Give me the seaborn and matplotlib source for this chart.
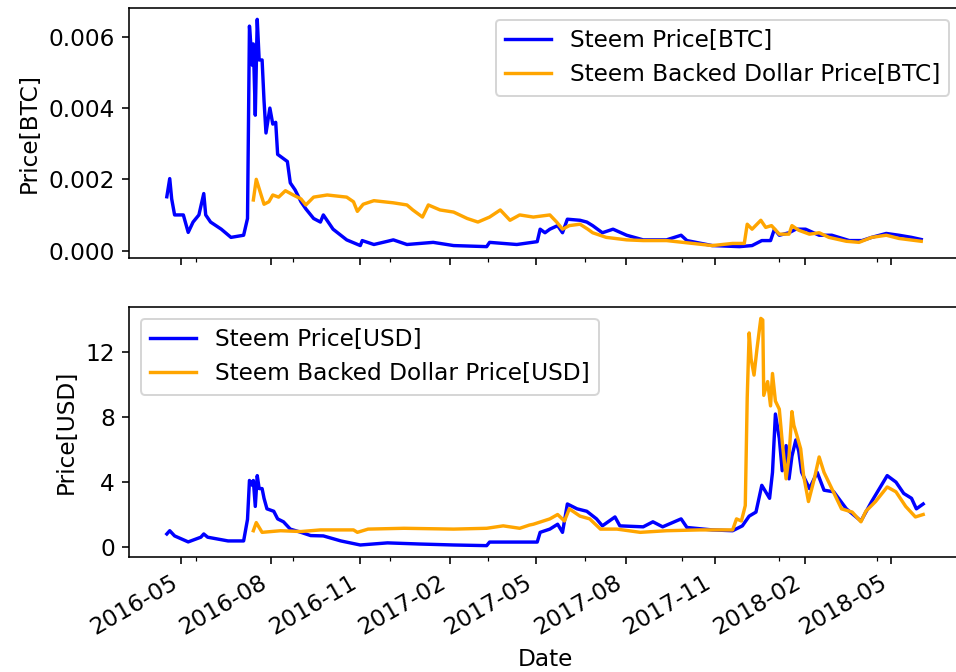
import matplotlib
matplotlib.use('Agg')
import matplotlib.dates as mdates
import matplotlib.pyplot as plt
import pandas as pd
import seaborn as sns
from matplotlib.ticker import MultipleLocator

# Steem price in BTC
steem_btc_dates = [
    '2016-04-16', '2016-04-19', '2016-04-21', '2016-04-24', '2016-05-03', '2016-05-08', '2016-05-13',
    '2016-05-19', '2016-05-24', '2016-05-26', '2016-05-31', '2016-06-11', '2016-06-21', '2016-07-04',
    '2016-07-08', '2016-07-10', '2016-07-13', '2016-07-14', '2016-07-16', '2016-07-18', '2016-07-20',
    '2016-07-23', '2016-07-25', '2016-07-27', '2016-07-31', '2016-08-03', '2016-08-06', '2016-08-08',
    '2016-08-13', '2016-08-18', '2016-08-21', '2016-08-26', '2016-09-01', '2016-09-06', '2016-09-14',
    '2016-09-21', '2016-09-24', '2016-10-04', '2016-10-18', '2016-11-01', '2016-11-03', '2016-11-15',
    '2016-11-29', '2016-12-05', '2016-12-19', '2017-01-15', '2017-02-05', '2017-03-11', '2017-03-14',
    '2017-04-11', '2017-05-02', '2017-05-05', '2017-05-10', '2017-05-15', '2017-05-23', '2017-05-28',
    '2017-06-02', '2017-06-15', '2017-06-22', '2017-06-28', '2017-07-08', '2017-07-19', '2017-08-02',
    '2017-08-19', '2017-09-12', '2017-09-27', '2017-10-03', '2017-10-29', '2017-11-26', '2017-12-09',
    '2017-12-19', '2017-12-28', '2018-01-01', '2018-01-06', '2018-01-16', '2018-01-23', '2018-02-02',
    '2018-02-16', '2018-03-01', '2018-03-19', '2018-04-01', '2018-04-11', '2018-04-26', '2018-05-09',
    '2018-05-22', '2018-06-01',
]
steem_btc = [
    0.00151, 0.00202, 0.00145, 0.00100, 0.00100, 0.00051, 0.00080,
    0.00100, 0.00160, 0.00100, 0.00080, 0.00060, 0.00037, 0.00043,
    0.00090, 0.00630, 0.00520, 0.00580, 0.00380, 0.00649, 0.00535,
    0.00535, 0.00420, 0.00330, 0.00400, 0.00355, 0.00360, 0.00270,
    0.00260, 0.00250, 0.00190, 0.00170, 0.00137, 0.00117, 0.00090,
    0.00080, 0.00100, 0.00060, 0.00030, 0.00014, 0.00028, 0.00017,
    0.00026, 0.00030, 0.00017, 0.00023, 0.00014, 0.00011, 0.00023,
    0.00017, 0.00025, 0.00060, 0.00050, 0.00060, 0.00070, 0.00050,
    0.00088, 0.00085, 0.00080, 0.00070, 0.00050, 0.00060, 0.00043,
    0.00030, 0.00030, 0.00043, 0.00028, 0.00014, 0.00011, 0.00014,
    0.00028, 0.00028, 0.00060, 0.00043, 0.00050, 0.00060, 0.00060,
    0.00043, 0.00043, 0.00028, 0.00028, 0.00037, 0.00048, 0.00043,
    0.00037, 0.00031,
]

# Steem Backed Dollar price in BTC
sbd_btc_dates = [
    '2016-07-14', '2016-07-17', '2016-07-22', '2016-07-25', '2016-07-30', '2016-08-03', '2016-08-09',
    '2016-08-16', '2016-08-24', '2016-09-01', '2016-09-06', '2016-09-14', '2016-09-28', '2016-10-18',
    '2016-10-25', '2016-10-29', '2016-11-04', '2016-11-15', '2016-12-05', '2016-12-19', '2016-12-25',
    '2017-01-04', '2017-01-10', '2017-01-22', '2017-02-05', '2017-02-19', '2017-03-02', '2017-03-14',
    '2017-03-25', '2017-04-04', '2017-04-14', '2017-04-28', '2017-05-15', '2017-05-22', '2017-05-28',
    '2017-06-04', '2017-06-15', '2017-06-23', '2017-06-28', '2017-07-12', '2017-08-02', '2017-08-19',
    '2017-09-12', '2017-10-09', '2017-10-29', '2017-11-19', '2017-12-01', '2017-12-04', '2017-12-09',
    '2017-12-18', '2017-12-23', '2017-12-29', '2018-01-06', '2018-01-16', '2018-01-19', '2018-01-26',
    '2018-02-06', '2018-02-16', '2018-02-26', '2018-03-16', '2018-03-29', '2018-04-11', '2018-04-26',
    '2018-05-09', '2018-06-01',
]
sbd_btc = [
    0.00142, 0.00200, 0.00156, 0.00130, 0.00137, 0.00156, 0.00150,
    0.00168, 0.00156, 0.00145, 0.00128, 0.00150, 0.00156, 0.00150,
    0.00137, 0.00110, 0.00130, 0.00140, 0.00134, 0.00128, 0.00114,
    0.00094, 0.00128, 0.00114, 0.00108, 0.00090, 0.00080, 0.00094,
    0.00114, 0.00085, 0.00100, 0.00094, 0.00100, 0.00080, 0.00060,
    0.00070, 0.00074, 0.00060, 0.00050, 0.00037, 0.00030, 0.00028,
    0.00028, 0.00020, 0.00014, 0.00020, 0.00020, 0.00074, 0.00060,
    0.00085, 0.00065, 0.00070, 0.00046, 0.00046, 0.00070, 0.00057,
    0.00046, 0.00050, 0.00037, 0.00026, 0.00023, 0.00037, 0.00043,
    0.00034, 0.00026,
]

# Steem price in USD
steem_usd_dates = [
    '2016-04-16', '2016-04-19', '2016-04-24', '2016-05-08', '2016-05-21', '2016-05-24', '2016-05-28',
    '2016-06-18', '2016-07-04', '2016-07-08', '2016-07-10', '2016-07-13', '2016-07-14', '2016-07-16',
    '2016-07-18', '2016-07-20', '2016-07-23', '2016-07-25', '2016-07-28', '2016-08-04', '2016-08-08',
    '2016-08-14', '2016-08-21', '2016-09-01', '2016-09-11', '2016-09-24', '2016-10-12', '2016-11-01',
    '2016-11-29', '2017-01-01', '2017-02-05', '2017-03-11', '2017-03-14', '2017-04-14', '2017-05-02',
    '2017-05-05', '2017-05-15', '2017-05-23', '2017-05-28', '2017-06-02', '2017-06-12', '2017-06-22',
    '2017-07-02', '2017-07-08', '2017-07-21', '2017-07-26', '2017-08-19', '2017-08-29', '2017-09-08',
    '2017-09-27', '2017-10-03', '2017-10-29', '2017-11-19', '2017-11-29', '2017-12-06', '2017-12-13',
    '2017-12-19', '2017-12-27', '2017-12-30', '2018-01-02', '2018-01-06', '2018-01-09', '2018-01-13',
    '2018-01-16', '2018-01-19', '2018-01-23', '2018-01-26', '2018-01-29', '2018-02-06', '2018-02-14',
    '2018-02-21', '2018-03-03', '2018-03-16', '2018-03-31', '2018-04-11', '2018-04-20', '2018-04-27',
    '2018-05-06', '2018-05-14', '2018-05-22', '2018-05-27', '2018-06-03',
]
steem_usd = [
    0.80, 1.00, 0.68, 0.31, 0.60, 0.80, 0.60,
    0.37, 0.37, 1.70, 4.10, 3.80, 4.10, 2.50,
    4.40, 3.60, 3.60, 3.00, 2.35, 2.20, 1.73,
    1.55, 1.10, 0.90, 0.70, 0.68, 0.37, 0.12,
    0.25, 0.18, 0.12, 0.08, 0.30, 0.30, 0.30,
    0.90, 1.10, 1.40, 0.90, 2.65, 2.35, 2.20,
    1.73, 1.30, 1.85, 1.30, 1.24, 1.55, 1.24,
    1.73, 1.20, 1.05, 1.00, 1.30, 1.90, 2.15,
    3.80, 3.00, 4.60, 8.20, 6.70, 4.70, 6.25,
    4.20, 5.60, 6.60, 5.90, 4.60, 3.60, 4.60,
    3.50, 3.40, 2.35, 1.60, 2.80, 3.70, 4.40,
    4.00, 3.30, 3.00, 2.35, 2.65,
]

# Steem Backed Dollar price in USD
sbd_usd_dates = [
    '2016-07-14', '2016-07-17', '2016-07-23', '2016-08-11', '2016-09-01', '2016-09-21', '2016-10-25',
    '2016-10-29', '2016-11-09', '2016-12-16', '2017-02-05', '2017-03-11', '2017-03-28', '2017-04-14',
    '2017-04-24', '2017-04-28', '2017-05-15', '2017-05-23', '2017-05-30', '2017-06-04', '2017-06-15',
    '2017-06-25', '2017-07-06', '2017-07-23', '2017-08-16', '2017-09-12', '2017-10-16', '2017-11-19',
    '2017-11-23', '2017-11-28', '2017-12-02', '2017-12-04', '2017-12-06', '2017-12-08', '2017-12-11',
    '2017-12-14', '2017-12-18', '2017-12-20', '2017-12-21', '2017-12-25', '2017-12-28', '2017-12-30',
    '2018-01-02', '2018-01-06', '2018-01-09', '2018-01-13', '2018-01-16', '2018-01-19', '2018-01-21',
    '2018-01-24', '2018-01-28', '2018-01-31', '2018-02-05', '2018-02-11', '2018-02-16', '2018-02-21',
    '2018-03-01', '2018-03-11', '2018-03-22', '2018-03-31', '2018-04-05', '2018-04-15', '2018-04-27',
    '2018-05-06', '2018-05-16', '2018-05-26', '2018-06-03',
]
sbd_usd = [
    1.00, 1.50, 0.90, 1.00, 0.95, 1.05, 1.05,
    0.90, 1.10, 1.15, 1.10, 1.15, 1.30, 1.15,
    1.35, 1.40, 1.73, 2.00, 1.60, 2.35, 1.90,
    1.73, 1.10, 1.10, 0.90, 1.00, 1.05, 1.05,
    1.73, 1.60, 2.55, 9.20, 13.20, 11.60, 10.60,
    12.20, 14.10, 14.00, 9.35, 10.20, 8.70, 10.70,
    9.00, 8.50, 6.50, 4.20, 5.60, 8.35, 7.50,
    6.90, 6.05, 4.40, 2.80, 4.20, 5.55, 4.60,
    3.60, 2.35, 2.15, 1.55, 2.20, 2.80, 3.70,
    3.40, 2.50, 1.85, 2.00,
]


def main() -> None:
    plt.rcParams['font.size'] = 11.6
    fig, (ax1, ax2) = plt.subplots(2, 1, sharex=True, figsize=(956 / 144, 672 / 144), dpi=144)

    sns.lineplot(x=pd.to_datetime(steem_btc_dates), y=steem_btc, color='blue', linewidth=1.7, label='Steem Price[BTC]', ax=ax1)
    sns.lineplot(x=pd.to_datetime(sbd_btc_dates), y=sbd_btc, color='orange', linewidth=1.7, label='Steem Backed Dollar Price[BTC]', ax=ax1)
    ax1.set_ylabel('Price[BTC]')
    ax1.yaxis.set_major_locator(MultipleLocator(0.002))
    ax1.legend(loc='upper right')

    sns.lineplot(x=pd.to_datetime(steem_usd_dates), y=steem_usd, color='blue', linewidth=1.7, label='Steem Price[USD]', ax=ax2)
    sns.lineplot(x=pd.to_datetime(sbd_usd_dates), y=sbd_usd, color='orange', linewidth=1.7, label='Steem Backed Dollar Price[USD]', ax=ax2)
    ax2.set_ylabel('Price[USD]')
    ax2.set_xlabel('Date')
    ax2.yaxis.set_major_locator(MultipleLocator(4))
    ax2.legend(loc='upper left')

    ax2.xaxis.set_major_locator(mdates.MonthLocator(bymonth=[2, 5, 8, 11]))
    ax2.xaxis.set_major_formatter(mdates.DateFormatter('%Y-%m'))
    ax2.xaxis.set_minor_locator(MultipleLocator(100, offset=37))
    fig.autofmt_xdate()

    w, h = 956, 672
    ax1.set_position([129 / w, 1 - 258 / h, 832 / w, 250 / h])
    ax2.set_position([129 / w, 1 - 557 / h, 832 / w, 250 / h])

    fig.savefig('out.png', dpi=144)
    plt.close(fig)


if __name__ == '__main__':
    main()
